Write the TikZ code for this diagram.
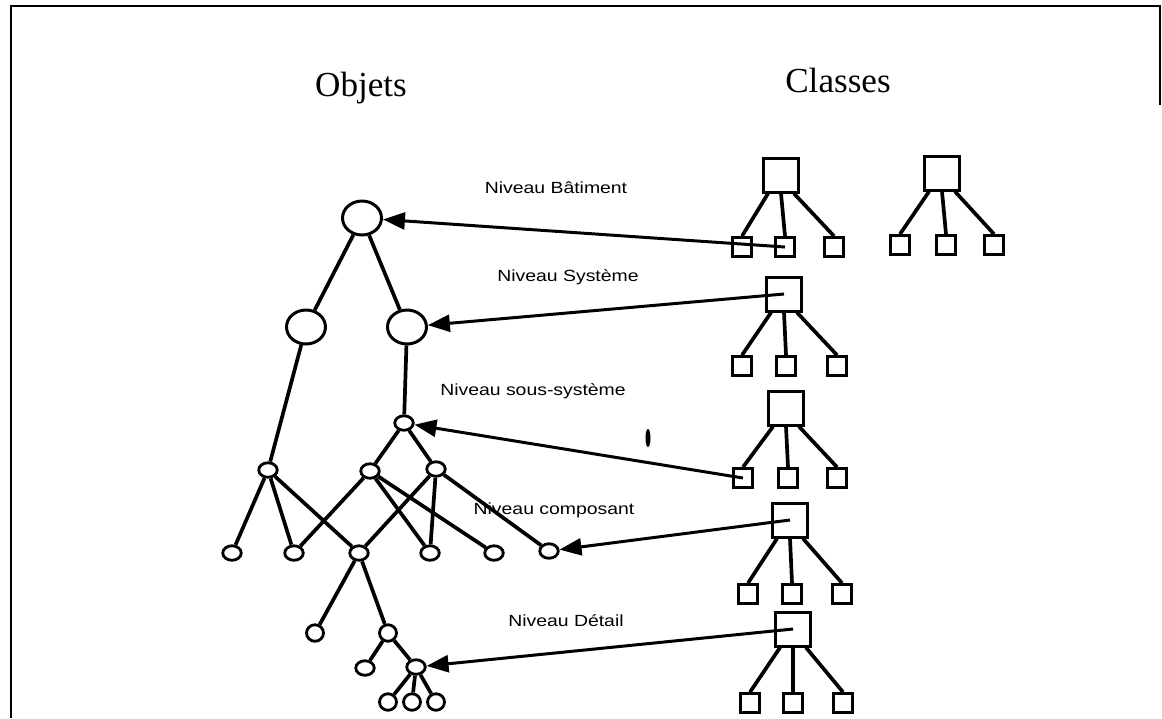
\documentclass[tikz,border=0pt]{standalone}
\usepackage{fontspec}
\setmainfont{Liberation Serif}
\newfontfamily\labfont{Liberation Sans}
\usepackage{graphicx}
\usetikzlibrary{shapes.geometric,arrows.meta}
\tikzset{
  objbig/.style={draw, ellipse, line width=1.7pt, inner sep=0pt, minimum width=0.78cm, minimum height=0.68cm},
  objsmall/.style={draw, ellipse, line width=1.6pt, inner sep=0pt, minimum width=0.37cm, minimum height=0.29cm},
  objround/.style={draw, ellipse, line width=1.6pt, inner sep=0pt, minimum width=0.34cm, minimum height=0.33cm},
  clsbig/.style={draw, rectangle, line width=1.7pt, inner sep=0pt, minimum width=0.7cm, minimum height=0.68cm},
  clssmall/.style={draw, rectangle, line width=1.6pt, inner sep=0pt, minimum size=0.38cm},
  edge/.style={line width=2.1pt},
  conn/.style={line width=1.7pt, -{Triangle[length=0.44cm, width=0.34cm]}},
  lvl/.style={inner sep=0pt, font=\labfont\fontsize{9.2pt}{10pt}\selectfont},
  ttl/.style={inner sep=0pt, font=\fontsize{20pt}{22pt}\selectfont},
  frame/.style={line width=1.2pt}
}
\newcommand{\wide}[1]{\scalebox{1.2}[1]{#1}}
\begin{document}
\begin{tikzpicture}[x=0.02cm, y=-0.02cm]
\useasboundingbox (0,0) rectangle (1162,718);
% frame
\draw[frame] (11,718) |- (1160,6) -- (1160,105);

% titles
\node[ttl] (tobj) at (361,88) {Objets};
\node[ttl] (tcls) at (838,80) {Classes};

% level labels
\node[lvl] (lb1) at (556,188) {\wide{Niveau Bâtiment}};
\node[lvl] (lb2) at (568,277) {\wide{Niveau Système}};
\node[lvl] (lb3) at (533,391) {\wide{Niveau sous-système}};
\node[lvl] (lb4) at (554,510) {\wide{Niveau composant}};
\node[lvl] (lb5) at (566,621) {\wide{Niveau Détail}};

% object tree
\node[objbig] (root) at (362,218) {};
\node[objbig] (l2a) at (306,327) {};
\node[objbig] (l2b) at (407,327) {};
\node[objsmall] (S) at (404,423) {};
\node[objsmall] (A) at (268,470) {};
\node[objsmall] (B) at (370,471) {};
\node[objsmall] (C) at (436,469) {};
\node[objsmall] (a1) at (232,553) {};
\node[objsmall] (a2) at (294,553) {};
\node[objsmall] (a3) at (359,553) {};
\node[objsmall] (a4) at (430,553) {};
\node[objsmall] (a5) at (494,553) {};
\node[objsmall] (a6) at (549,551) {};
\node[objround] (d1) at (315,633) {};
\node[objround] (d2) at (388,633) {};
\node[objsmall] (e1) at (365,668) {};
\node[objsmall] (e2) at (416,667) {};
\node[objround] (f1) at (388,702) {};
\node[objround] (f2) at (412,702) {};
\node[objround] (f3) at (436,702) {};

\draw[edge] (root) -- (l2a);
\draw[edge] (root) -- (l2b);
\draw[edge] (l2a) -- (A);
\draw[edge] (l2b) -- (S);
\draw[edge] (S) -- (B);
\draw[edge] (S) -- (C);
\draw[edge] (A) -- (a1);
\draw[edge] (A) -- (a2);
\draw[edge] (A) -- (a3);
\draw[edge] (B) -- (a2);
\draw[edge] (B) -- (a4);
\draw[edge] (B) -- (a5);
\draw[edge] (C) -- (a3);
\draw[edge] (C) -- (a4);
\draw[edge] (C) -- (a6);
\draw[edge] (a3) -- (d1);
\draw[edge] (a3) -- (d2);
\draw[edge] (d2) -- (e1);
\draw[edge] (d2) -- (e2);
\draw[edge] (e2) -- (f1);
\draw[edge] (e2) -- (f2);
\draw[edge] (e2) -- (f3);

% class trees
\foreach \n/\px/\py/\ax/\bx/\cx/\cy in {
  1/781/175/742/785/834/247,
  2/942/173/900/946/994/245,
  3/784/294/742/786/837/366,
  4/786/408/743/788/837/478,
  5/790/520/748/792/842/594,
  6/793/629/750/793/843/703}{
  \node[clsbig] (p\n) at (\px,\py) {};
  \node[clssmall] (c\n a) at (\ax,\cy) {};
  \node[clssmall] (c\n b) at (\bx,\cy) {};
  \node[clssmall] (c\n c) at (\cx,\cy) {};
  \draw[edge] (p\n.235) -- (c\n a.north);
  \draw[edge] (p\n.south) -- (c\n b.north);
  \draw[edge] (p\n.305) -- (c\n c.north);
}

% connectors
\draw[conn] (c1b.center) -- (root);
\draw[conn] (p3.center) -- (l2b);
\draw[conn] (c4a.center) -- (S);
\draw[conn] (p5.center) -- (a6);
\draw[conn] (p6.center) -- (e2);

% small mark
\node[fill, ellipse, inner sep=0pt, minimum width=0.1cm, minimum height=0.36cm] (mark) at (648,438) {};
\end{tikzpicture}
\end{document}
